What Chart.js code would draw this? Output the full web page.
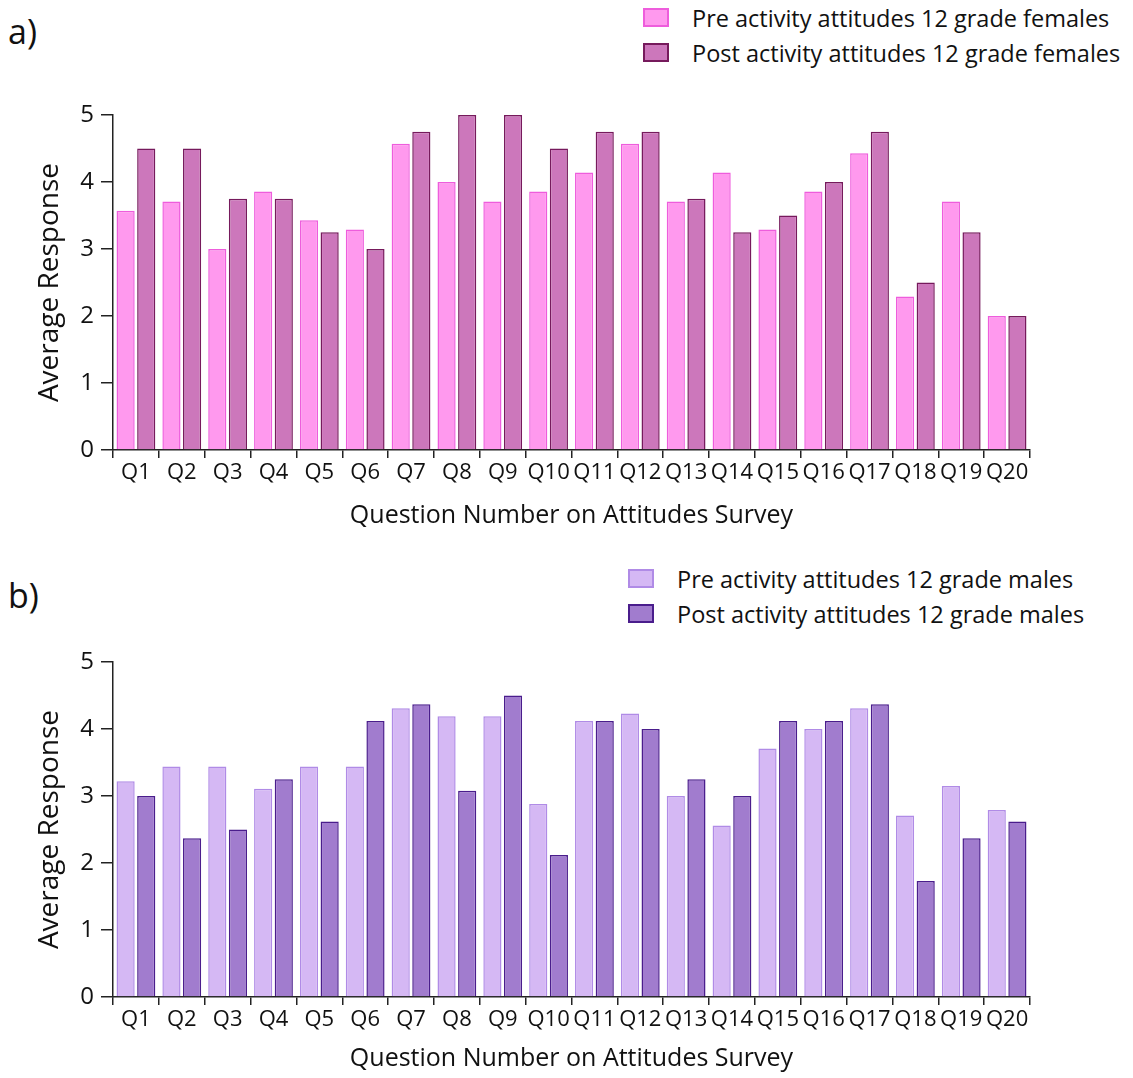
<!DOCTYPE html>
<html>
<head>
<meta charset="utf-8">
<script src="https://cdn.jsdelivr.net/npm/chart.js@4.4.1/dist/chart.umd.min.js"></script>
<style>
  body { margin: 0; background: #fff; font-family: 'Open Sans', sans-serif; color: #111; }
  #page { position: relative; width: 1133px; height: 1078px; overflow: hidden; }
  .panel-label { position: absolute; left: 8px; font-size: 34px; line-height: 1; }
  .box { position: absolute; }
  .legend { position: absolute; font-size: 23.5px; }
  .legend-item { display: flex; align-items: center; height: 35px; }
  .swatch { width: 22px; height: 15px; border: 2px solid; margin-right: 23px; }
</style>
</head>
<body>
<div id="page">
  <div class="panel-label" style="top:14px">a)</div>
  <div class="legend" id="legendA" style="left:643px; top:0px"></div>
  <div class="box" style="left:0; top:80px; width:1133px; height:460px"><canvas id="chartA"></canvas></div>

  <div class="panel-label" style="top:578px">b)</div>
  <div class="legend" id="legendB" style="left:628px; top:561px"></div>
  <div class="box" style="left:0; top:625px; width:1133px; height:453px"><canvas id="chartB"></canvas></div>
</div>
<script>
// ==================== DATA ====================
const questions = ['Q1','Q2','Q3','Q4','Q5','Q6','Q7','Q8','Q9','Q10',
                   'Q11','Q12','Q13','Q14','Q15','Q16','Q17','Q18','Q19','Q20'];
const yTicks = [0, 1, 2, 3, 4, 5];

const femalePre  = [3.57, 3.71, 3.0, 3.86, 3.43, 3.29, 4.57, 4.0, 3.71, 3.86,
                    4.14, 4.57, 3.71, 4.14, 3.29, 3.86, 4.43, 2.29, 3.71, 2.0];
const femalePost = [4.5, 4.5, 3.75, 3.75, 3.25, 3.0, 4.75, 5.0, 5.0, 4.5,
                    4.75, 4.75, 3.75, 3.25, 3.5, 4.0, 4.75, 2.5, 3.25, 2.0];

const malePre  = [3.22, 3.44, 3.44, 3.11, 3.44, 3.44, 4.31, 4.19, 4.19, 2.88,
                  4.12, 4.23, 3.0, 2.56, 3.71, 4.0, 4.31, 2.71, 3.15, 2.79];
const malePost = [3.0, 2.37, 2.5, 3.25, 2.62, 4.12, 4.37, 3.08, 4.5, 2.12,
                  4.12, 4.0, 3.25, 3.0, 4.12, 4.12, 4.37, 1.73, 2.37, 2.62];

const labelsA = ['Pre activity attitudes 12 grade females', 'Post activity attitudes 12 grade females'];
const labelsB = ['Pre activity attitudes 12 grade males', 'Post activity attitudes 12 grade males'];

const FONT = "'Open Sans', sans-serif";
const axisColor = '#222';

function buildChart(id, legendId, labels, pre, post, colors, xHeight, titlePadBottom, padTop) {
  const ctx = document.getElementById(id).getContext('2d');
  const chart = new Chart(ctx, {
    type: 'bar',
    data: {
      labels: questions,
      datasets: [
        { label: labels[0], data: pre, backgroundColor: colors.preFill, borderColor: colors.preBorder,
          borderWidth: 1.5, categoryPercentage: 0.9, barPercentage: 0.88 },
        { label: labels[1], data: post, backgroundColor: colors.postFill, borderColor: colors.postBorder,
          borderWidth: 1.5, categoryPercentage: 0.9, barPercentage: 0.88 }
      ]
    },
    options: {
      responsive: true,
      maintainAspectRatio: false,
      animation: false,
      layout: { padding: { left: 0, right: 103, top: padTop, bottom: 0 } },
      plugins: { legend: { display: false }, tooltip: { enabled: false } },
      scales: {
        x: {
          grid: { drawOnChartArea: false, drawTicks: true, tickLength: 8, color: axisColor, lineWidth: 1.5, offset: true },
          border: { display: true, color: axisColor, width: 1.5 },
          ticks: { color: '#111', font: { family: FONT, size: 22 }, padding: 2, maxRotation: 0, autoSkip: false },
          title: { display: true, text: 'Question Number on Attitudes Survey', color: '#111',
                   font: { family: FONT, size: 25 }, padding: { top: 0, bottom: titlePadBottom } },
          afterFit: s => { s.height = xHeight; }
        },
        y: {
          min: 0, max: 5,
          afterBuildTicks: s => { s.ticks = yTicks.map(v => ({ value: v })); },
          grid: { drawOnChartArea: false, drawTicks: true, tickLength: 12, color: axisColor, lineWidth: 1.5 },
          border: { display: true, color: axisColor, width: 1.5 },
          ticks: { color: '#111', font: { family: FONT, size: 24 }, padding: 7 },
          title: { display: true, text: 'Average Response', color: '#111',
                   font: { family: FONT, size: 28 }, padding: { top: 33, bottom: 0 } },
          afterFit: s => { s.width = 113; }
        }
      }
    }
  });

  // html legend, stacked vertically like the original
  const el = document.getElementById(legendId);
  el.innerHTML = chart.data.datasets.map(d =>
    `<div class="legend-item"><span class="swatch" style="background:${d.backgroundColor};border-color:${d.borderColor}"></span>${d.label}</div>`
  ).join('');
  return chart;
}

buildChart('chartA', 'legendA', labelsA, femalePre, femalePost,
  { preFill: '#ff99ee', preBorder: '#ee5ddc', postFill: '#cc77bb', postBorder: '#761a5c' }, 90, 9, 35);

buildChart('chartB', 'legendB', labelsB, malePre, malePost,
  { preFill: '#d5b8f4', preBorder: '#b08be6', postFill: '#a17cce', postBorder: '#4a1d8c' }, 81, 4, 37);
</script>
</body>
</html>
